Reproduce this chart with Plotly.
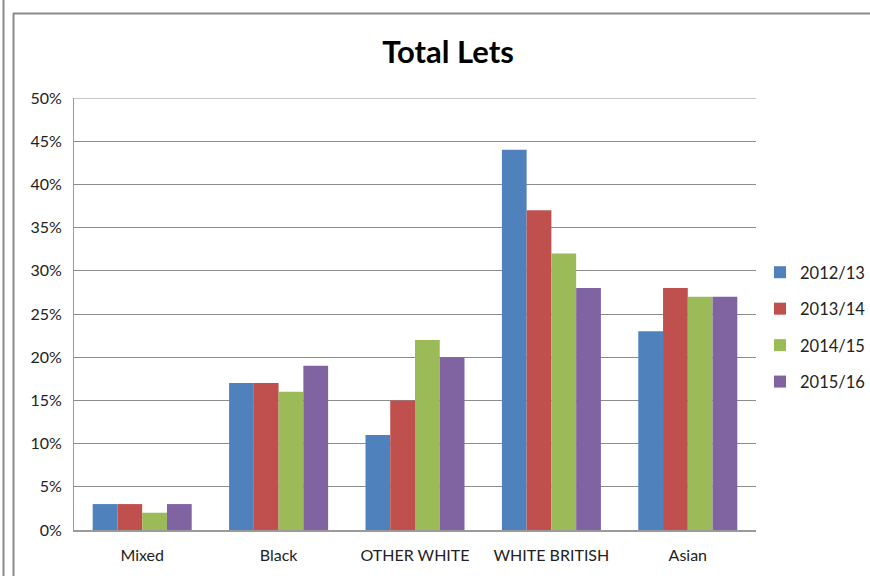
import plotly.graph_objects as go

# Lettings share by ethnic group, per financial year
categories = ["Mixed", "Black", "OTHER WHITE", "WHITE BRITISH", "Asian"]
years = ["2012/13", "2013/14", "2014/15", "2015/16"]
lets_2012_13 = [3, 17, 11, 44, 23]
lets_2013_14 = [3, 17, 15, 37, 28]
lets_2014_15 = [2, 16, 22, 32, 27]
lets_2015_16 = [3, 19, 20, 28, 27]
y_ticks = [0, 5, 10, 15, 20, 25, 30, 35, 40, 45, 50]

series = [lets_2012_13, lets_2013_14, lets_2014_15, lets_2015_16]
colors = ["#4F81BD", "#C0504D", "#9BBB59", "#8064A2"]

W, H = 870, 576
L, R, T, B = 74, 756, 98, 530  # plot area in pixels

fig = go.Figure()
for name, vals, col in zip(years, series, colors):
    fig.add_trace(go.Bar(
        x=categories, y=[v / 100 for v in vals], name=name,
        marker=dict(color=col, line=dict(width=0)),
        legendgroup=name,
    ))

def px(x):
    return (x - L) / (R - L)

def py(y):
    return (B - y) / (B - T)

shapes = [
    # outer frame lines
    dict(type="line", xref="paper", yref="paper", x0=px(3.5), x1=px(3.5),
         y0=py(0), y1=py(576), line=dict(color="#8a8a8a", width=2)),
    dict(type="line", xref="paper", yref="paper", x0=px(13.5), x1=px(13.5),
         y0=py(13), y1=py(580), line=dict(color="#8a8a8a", width=2)),
    dict(type="line", xref="paper", yref="paper", x0=px(13), x1=px(875),
         y0=py(13.5), y1=py(13.5), line=dict(color="#8a8a8a", width=2)),
]

fig.update_layout(
    width=W, height=H,
    margin=dict(l=L, r=W - R, t=T, b=H - B, autoexpand=False),
    paper_bgcolor="white", plot_bgcolor="white",
    font=dict(family="Lato, 'Open Sans', sans-serif", size=16, color="#222222"),
    title=dict(text="<b>Total Lets</b>", x=0.515, xanchor="center",
               y=1 - 52 / H, yanchor="middle",
               font=dict(size=31, color="#000000")),
    barmode="group", bargap=0.274, bargroupgap=0,
    showlegend=True,
    legend=dict(x=px(760), xanchor="left", y=py(255), yanchor="top",
                font=dict(size=16.5, color="#222222"), tracegroupgap=12,
                itemwidth=30, bgcolor="rgba(0,0,0,0)"),
    shapes=shapes,
)
fig.update_xaxes(showline=True, linecolor="#9a9a9a", linewidth=2,
                 ticks="", tickfont=dict(size=16), showgrid=False,
                 ticklabelstandoff=10)
fig.update_yaxes(range=[0, 0.5], tickvals=[t / 100 for t in y_ticks],
                 ticktext=[f"{t}%" for t in y_ticks],
                 showgrid=True, gridcolor="#8c8c8c", gridwidth=1,
                 showline=True, linecolor="#9a9a9a", linewidth=1,
                 ticks="", tickfont=dict(size=16), zeroline=False,
                 mirror=False, ticklabelstandoff=8)
# top boundary of plot area at 50%
fig.add_hline(y=0.5, line=dict(color="#8c8c8c", width=1))

fig.write_html("out.html")
